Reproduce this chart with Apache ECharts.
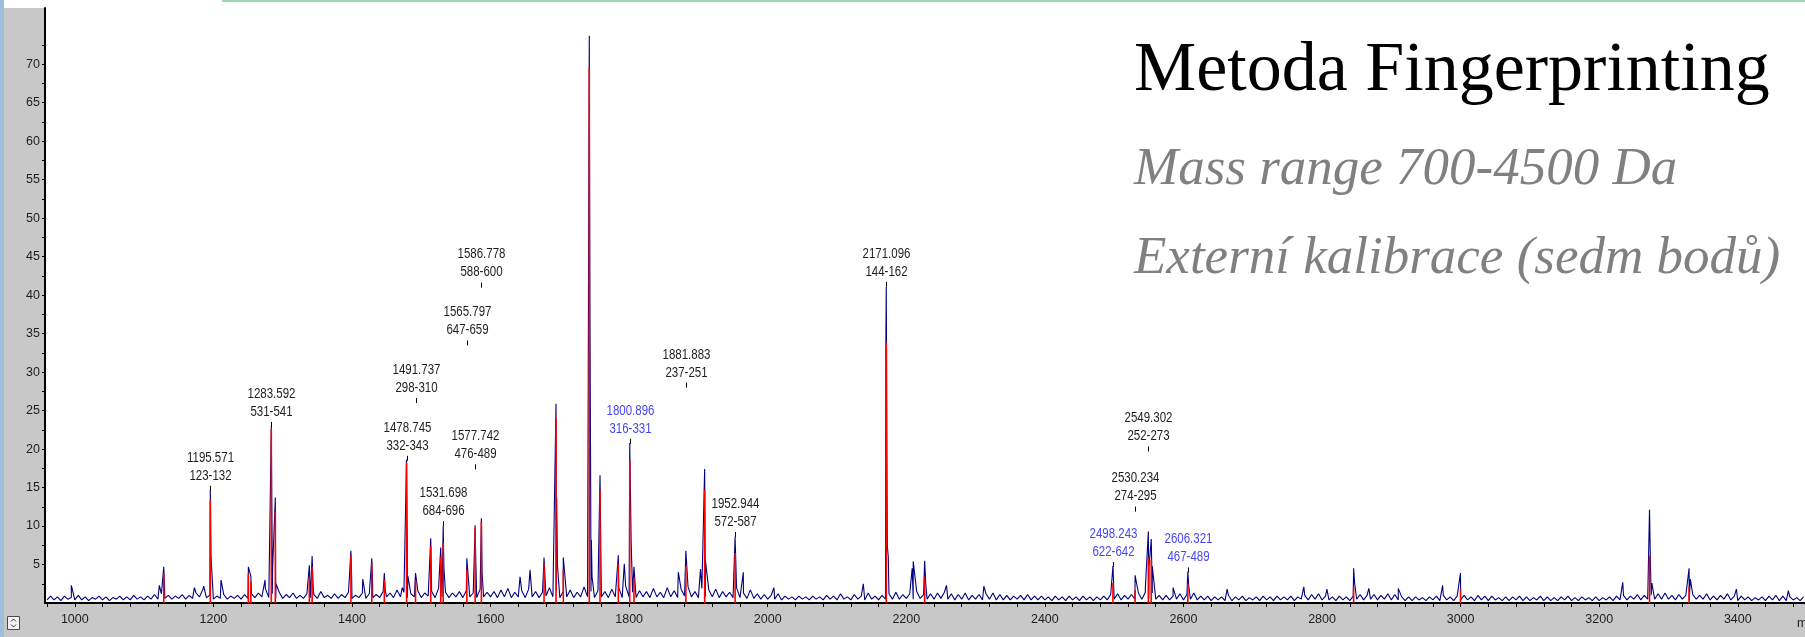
<!DOCTYPE html>
<html>
<head>
<meta charset="utf-8">
<title>Metoda Fingerprinting</title>
<script src="https://cdn.jsdelivr.net/npm/echarts@6/dist/echarts.min.js"></script>
<style>
  html, body { margin: 0; padding: 0; background: #ffffff; }
  #chart { width: 1805px; height: 637px; }
</style>
</head>
<body>
<div id="chart"></div>
<script>
// ---- spectrum data ----
// baseline noise, one value every noiseStep Da starting at noiseStart
const noiseStart = 960;
const noiseStep = 5;
const noise = [
  0.4,0.9,0.4,0.8,0.3,0.9,0.5,0.7,0.4,1.0, 0.4,0.8,0.3,0.7,0.5,0.9,0.4,0.8,0.3,0.7,
  0.5,0.9,0.4,0.8,0.4,1.0,0.5,0.8,0.4,0.9, 0.5,1.1,
  0.5,1.2,0.6,1.0,0.5,0.9,0.6,1.1,0.5,1.0, 0.6,1.3,0.8,1.8,0.7,1.0,0.5,0.9,0.6,1.1,
  0.5,0.9,0.6,1.0,0.5,1.1,0.6,1.2,0.7,1.3, 0.8,1.9,
  0.7,1.2,0.6,1.4,0.6,1.1,0.7,1.3,0.6,1.0, 0.6,1.2,0.7,1.1,0.6,1.5,0.7,1.0,0.6,1.2,
  0.6,1.1,0.7,1.4,0.6,1.0,0.7,1.3,0.6,1.2, 0.7,1.1,
  0.7,1.5,0.8,1.3,0.7,1.7,0.8,1.4,0.7,1.2, 0.8,1.6,0.7,1.3,0.9,1.5,0.7,1.9,0.8,1.4,
  0.7,1.3,0.8,1.5,0.7,1.6,0.8,1.3,0.7,1.8, 0.8,1.4,
  0.8,1.5,0.7,1.7,0.8,1.9,0.7,1.4,0.8,1.6, 0.7,1.8,0.8,1.5,0.7,1.4,0.9,2.0,0.8,1.6,
  0.7,1.5,0.8,1.7,0.7,1.4,0.8,2.1,0.8,1.5, 0.7,1.6,
  0.8,1.5,0.7,1.8,0.8,2.0,0.7,2.2,0.8,1.4, 0.7,1.6,0.8,1.5,0.7,1.9,0.8,1.4,0.7,2.0,
  0.8,1.6,0.7,1.8,0.9,2.1,0.8,1.5,0.7,1.9, 0.8,1.7,
  0.8,1.8,0.7,1.5,0.8,1.4,0.7,2.0,0.7,1.3, 0.6,1.7,0.6,1.2,0.5,1.1,0.5,1.0,0.5,1.2,
  0.4,0.9,0.5,0.8,0.4,0.9,0.5,0.8,0.4,0.9, 0.5,0.8,
  0.4,1.0,0.5,0.9,0.4,1.2,0.5,0.8,0.4,1.1, 0.5,0.9,0.4,1.3,0.5,0.9,0.4,1.0,0.5,1.2,
  0.5,1.4,0.5,1.1,0.6,1.2,0.5,1.5,0.6,1.1, 0.5,1.2,
  0.5,1.3,0.6,1.4,0.5,1.2,0.4,1.1,0.5,1.3, 0.4,1.0,0.5,1.1,0.4,1.2,0.5,1.3,0.4,1.1,
  0.4,1.0,0.4,0.9,0.5,1.0,0.4,1.1,0.4,0.9, 0.4,0.9,
  0.4,0.8,0.3,0.9,0.4,0.8,0.3,0.9,0.4,0.8, 0.3,0.9,0.4,0.8,0.3,0.8,0.4,0.9,0.4,1.1,
  0.5,1.2,0.4,1.0,0.5,1.1,0.5,1.3,0.5,1.4, 0.6,1.3,
  0.5,1.0,0.4,1.0,0.4,0.9,0.5,1.2,0.4,1.1, 0.5,1.3,0.4,0.9,0.4,0.9,0.3,0.8,0.4,0.8,
  0.3,1.0,0.3,0.8,0.4,0.9,0.3,0.7,0.4,0.8, 0.3,0.9,
  0.4,0.8,0.3,0.9,0.4,0.8,0.4,0.9,0.3,0.8, 0.5,1.0,0.4,1.1,0.5,1.2,0.4,0.9,0.4,0.8,
  0.3,0.9,0.4,0.8,0.3,0.9,0.5,1.1,0.4,1.0, 0.5,1.1,
  0.4,1.0,0.5,1.2,0.4,1.1,0.4,0.8,0.3,0.8, 0.3,0.8,0.4,0.7,0.3,0.8,0.4,0.9,0.3,1.0,
  0.4,0.8,0.3,0.9,0.4,1.0,0.4,0.8,0.3,1.0, 0.4,0.9,
  0.3,0.9,0.4,0.7,0.3,0.8,0.3,0.8,0.4,0.9, 0.3,0.8,0.3,0.7,0.4,0.9,0.3,0.8,0.3,0.7,
  0.3,0.8,0.4,0.9,0.3,0.7,0.3,0.8,0.4,0.7, 0.3,0.8,
  0.3,0.7,0.4,0.8,0.3,0.9,0.4,1.0,0.4,0.9, 0.5,1.1,0.4,1.0,0.5,1.0,0.5,1.2,0.5,1.3,
  0.5,1.0,0.4,1.1,0.5,1.0,0.4,1.1,0.5,1.0, 0.5,1.2,
  0.4,0.9,0.4,1.0,0.5,1.2,0.4,0.9,0.3,0.9, 0.4,0.8,0.3,0.7,0.4,0.8,0.3,0.9,0.4,1.0,
  0.3,0.9,0.3,0.8,0.4,0.7,0.3,0.8
];

// measured peaks (m/z, intensity) of the acquired spectrum
const peakMass = [
  995, 1122, 1128.4, 1172.6, 1186, 1195.571, 1196.6, 1211, 1250.5, 1254, 1274.6,
  1283.592, 1284.6, 1285.6, 1289.4, 1290.4, 1338.5, 1342.5, 1344, 1398.5, 1399.6,
  1415.6, 1428.6, 1429.6, 1446.7, 1448, 1472.7, 1478.745, 1479.75, 1480.75, 1491.737,
  1513.7, 1528.1, 1531.698, 1532.7, 1565.797, 1577.742, 1578.75, 1586.778, 1587.8,
  1642.6, 1657, 1677.2, 1694.5, 1695.5, 1696.5, 1705,
  1742.5, 1743.5, 1744.5, 1745.5, 1746.5, 1758, 1759, 1784.4, 1793,
  1800.896, 1801.9, 1802.9, 1807, 1871, 1881.883, 1882.9, 1903, 1909, 1910,
  1952.944, 1964.8, 2009, 2138, 2170.6, 2171.096, 2172.6, 2174, 2208.5, 2210,
  2226.5, 2228, 2258, 2312, 2498.243, 2530.234, 2545, 2549.302, 2550.3, 2553.5, 2555,
  2585, 2606.321, 2607.5, 2663, 2773.7, 2807, 2845.6, 2847, 2867.5, 2910, 2974,
  2999.8, 3234, 3272.6, 3274, 3276, 3329.7, 3331.5, 3398, 3473
];
const peakHeight = [
  2.3, 2.3, 4.7, 2.0, 2.2, 14.7, 6.0, 3.0, 4.7, 3.5, 3.0,
  23.0, 10.1, 4.8, 13.7, 2.5, 4.9, 6.1, 2.1, 6.8, 3.3,
  3.1, 5.8, 3.3, 3.9, 1.7, 2.0, 18.6, 8.4, 3.5, 3.9,
  8.4, 7.2, 10.0, 4.6, 5.8, 10.1, 5.4, 11.0, 3.9,
  3.4, 4.3, 5.9, 25.9, 13.6, 5.0, 5.9,
  73.7, 36.9, 15.2, 8.2, 3.4, 16.6, 8.3, 6.2, 5.1,
  20.8, 14.5, 8.0, 4.7, 4.0, 6.8, 6.8, 4.4, 17.4, 5.6,
  8.6, 4.0, 2.0, 2.5, 35.1, 41.1, 7.5, 6.0, 4.5, 5.4,
  5.5, 2.6, 2.3, 2.2, 4.8, 3.6, 2.0, 9.3, 4.7, 8.3, 4.8,
  2.0, 4.1, 2.3, 1.8, 2.1, 1.8, 4.5, 2.6, 1.9, 1.9, 2.3,
  3.9, 2.7, 12.1, 4.9, 2.6, 4.5, 3.1, 1.8, 1.6
];

// peaks matched to the theoretical digest (drawn as red sticks)
const matchMass = [
  1128.4, 1195.571, 1250.5, 1254, 1283.592, 1289.4, 1338.5, 1342.5, 1398.5, 1428.6,
  1446.7, 1478.745, 1491.737, 1513.7, 1528.1, 1531.698, 1565.797, 1577.742, 1586.778,
  1677.2, 1694.5, 1705, 1742.5, 1758, 1784.4, 1800.896, 1807, 1881.883, 1909,
  1952.944, 2171.096, 2226.5, 2498.243, 2530.234, 2549.302, 2553.5, 2606.321,
  2845.6, 2999.8, 3272.6, 3329.7
];
const matchHeight = [
  3.9, 13.4, 3.8, 2.8, 22.5, 11.9, 3.3, 4.7, 6.1, 5.2,
  3.0, 18.2, 3.0, 7.4, 6.0, 7.8, 4.3, 9.7, 10.6,
  5.1, 24.0, 4.4, 69.6, 14.6, 5.1, 18.6, 3.2, 4.8, 14.7,
  6.5, 33.8, 3.4, 2.6, 1.7, 5.9, 5.6, 2.5,
  2.1, 1.8, 6.1, 2.1
];

// annotated peaks: m/z, residue range, height of the annotation mark, highlight
const labelMass = [
  1195.571, 1283.592, 1478.745, 1491.737, 1531.698, 1565.797, 1577.742, 1586.778,
  1800.896, 1881.883, 1952.944, 2171.096, 2498.243, 2530.234, 2549.302, 2606.321
];
const labelRange = [
  '123-132', '531-541', '332-343', '298-310', '684-696', '647-659', '476-489', '588-600',
  '316-331', '237-251', '572-587', '144-162', '622-642', '274-295', '252-273', '467-489'
];
const labelLevel = [
  14.9, 23.2, 18.8, 26.3, 10.3, 33.8, 17.7, 41.3,
  21.0, 28.3, 8.9, 41.4, 5.0, 12.2, 20.0, 4.3
];
const labelBlue = [
  false, false, false, false, false, false, false, false,
  true, false, false, false, true, false, false, true
];

// axis tick labels
const xTickLabels = [1000, 1200, 1400, 1600, 1800, 2000, 2200, 2400, 2600, 2800, 3000, 3200, 3400];
const yTickLabels = [5, 10, 15, 20, 25, 30, 35, 40, 45, 50, 55, 60, 65, 70];

// ---- layout ----
const X_MIN = 957, X_MAX = 3497;
const Y_MIN = 0, Y_MAX = 77.3;
const SANS = '"Liberation Sans", Arial, sans-serif';
const NARROW = 0.82;   // horizontal squeeze for the narrow annotation face

const xMinorTicks = [];
for (let v = 960; v <= 3480; v += 40) xMinorTicks.push(v);
const yMinorTicks = [];
for (let v = 2.5; v <= 72.5; v += 2.5) yMinorTicks.push(v);

// merge noise and peaks into one m/z-sorted trace
const spectrum = noise.map((v, i) => [noiseStart + i * noiseStep, v])
  .concat(peakMass.map((m, i) => [m, peakHeight[i]]))
  .sort((a, b) => a[0] - b[0]);

const matched = matchMass.map((m, i) => [m, matchHeight[i]]);
const annotations = labelMass.map((m, i) => [m, labelLevel[i], i]);

const chart = echarts.init(document.getElementById('chart'), null, { renderer: 'canvas' });

chart.setOption({
  animation: false,
  backgroundColor: '#ffffff',
  grid: { left: 45, right: 0, top: 8, bottom: 34, containLabel: false },
  xAxis: {
    type: 'value',
    min: X_MIN,
    max: X_MAX,
    splitLine: { show: false },
    axisLine: { show: true, onZero: false, lineStyle: { color: '#000000', width: 2 } },
    axisTick: { show: true, inside: false, length: 4, customValues: xMinorTicks,
      lineStyle: { color: '#000000', width: 1 } },
    axisLabel: { customValues: xTickLabels, margin: 10, color: '#1e1e1e',
      fontSize: 12.5, fontFamily: SANS, formatter: v => String(v) }
  },
  yAxis: {
    type: 'value',
    min: Y_MIN,
    max: Y_MAX,
    splitLine: { show: false },
    axisLine: { show: true, onZero: false, lineStyle: { color: '#000000', width: 2 } },
    axisTick: { show: true, inside: false, length: 3, customValues: yMinorTicks,
      lineStyle: { color: '#000000', width: 1 } },
    axisLabel: { customValues: yTickLabels, margin: 5, color: '#1e1e1e',
      fontSize: 12.5, fontFamily: SANS, formatter: v => String(v) }
  },
  series: [
    {
      name: 'spectrum',
      type: 'line',
      data: spectrum,
      showSymbol: false,
      symbol: 'none',
      sampling: null,
      clip: true,
      z: 2,
      lineStyle: { color: '#00007f', width: 1.1 }
    },
    {
      name: 'matched',
      type: 'custom',
      data: matched,
      clip: true,
      z: 3,
      renderItem: function (params, api) {
        const base = api.coord([api.value(0), Y_MIN]);
        const top = api.coord([api.value(0), api.value(1)]);
        return {
          type: 'line',
          shape: { x1: base[0], y1: base[1], x2: top[0], y2: top[1] },
          style: { stroke: '#ff0000', lineWidth: 1.6 }
        };
      }
    },
    {
      name: 'annotations',
      type: 'custom',
      data: annotations,
      clip: false,
      z: 4,
      renderItem: function (params, api) {
        const idx = api.value(2);
        const p = api.coord([api.value(0), api.value(1)]);
        const x = Math.round(p[0]) + 0.5;
        const color = labelBlue[idx] ? '#4646f2' : '#1e1e1e';
        return {
          type: 'group',
          children: [
            {
              type: 'line',
              shape: { x1: x, y1: p[1] - 2.5, x2: x, y2: p[1] + 2.5 },
              style: { stroke: '#000000', lineWidth: 1 }
            },
            {
              type: 'text',
              x: x,
              y: p[1] - 3.5,
              scaleX: NARROW,
              style: {
                x: 0,
                y: 0,
                text: labelMass[idx].toFixed(3) + '\n' + labelRange[idx],
                align: 'center',
                verticalAlign: 'bottom',
                lineHeight: 18,
                font: '14px ' + SANS,
                fill: color
              }
            }
          ]
        };
      }
    }
  ],
  graphic: [
    { type: 'rect', z: -10, shape: { x: 0, y: 8, width: 45, height: 629 }, style: { fill: '#c8c8c8' } },
    { type: 'rect', z: -10, shape: { x: 0, y: 603, width: 1805, height: 34 }, style: { fill: '#c8c8c8' } },
    { type: 'rect', z: -9, shape: { x: 0, y: 0, width: 4, height: 637 }, style: { fill: '#a0bddc' } },
    { type: 'rect', z: -9, shape: { x: 222, y: 0, width: 1583, height: 2 }, style: { fill: '#97d8ad' } },
    // small scroll control in the corner
    { type: 'rect', z: 5, shape: { x: 7.5, y: 616.5, width: 12, height: 13 },
      style: { fill: '#f4f4f4', stroke: '#4a4a4a', lineWidth: 1 } },
    { type: 'polyline', z: 6, shape: { points: [[11, 621.5], [13.5, 619], [16, 621.5]] },
      style: { stroke: '#333333', lineWidth: 1, fill: null } },
    { type: 'polyline', z: 6, shape: { points: [[11, 624.5], [13.5, 627], [16, 624.5]] },
      style: { stroke: '#333333', lineWidth: 1, fill: null } },
    { type: 'text', z: 5, x: 1797, y: 624,
      style: { text: 'm/z', font: '12.5px ' + SANS, fill: '#1e1e1e', align: 'left', verticalAlign: 'middle' } },
    // headline block
    { type: 'text', z: 10, x: 1134, y: 72,
      style: { text: 'Metoda Fingerprinting', font: '70px "Liberation Serif", serif',
        fill: '#000000', align: 'left', verticalAlign: 'middle' } },
    { type: 'text', z: 10, x: 1134, y: 170,
      style: { text: 'Mass range 700-4500 Da', font: 'italic 53px "Liberation Serif", serif',
        fill: '#808080', align: 'left', verticalAlign: 'middle' } },
    { type: 'text', z: 10, x: 1134, y: 259,
      style: { text: 'Externí kalibrace (sedm bodů)', font: 'italic 53px "Liberation Serif", serif',
        fill: '#808080', align: 'left', verticalAlign: 'middle' } }
  ]
});
</script>
</body>
</html>
